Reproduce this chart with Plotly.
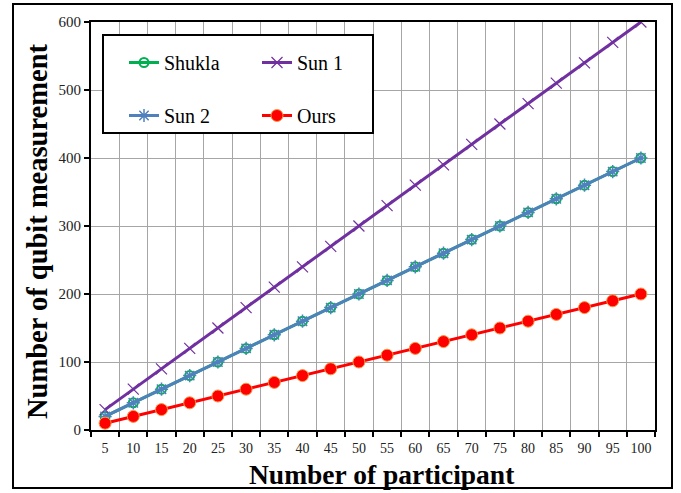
import plotly.graph_objects as go

participants = [5, 10, 15, 20, 25, 30, 35, 40, 45, 50, 55, 60, 65, 70, 75, 80, 85, 90, 95, 100]
shukla = [20, 40, 60, 80, 100, 120, 140, 160, 180, 200, 220, 240, 260, 280, 300, 320, 340, 360, 380, 400]
sun1 = [30, 60, 90, 120, 150, 180, 210, 240, 270, 300, 330, 360, 390, 420, 450, 480, 510, 540, 570, 600]
sun2 = [20, 40, 60, 80, 100, 120, 140, 160, 180, 200, 220, 240, 260, 280, 300, 320, 340, 360, 380, 400]
ours = [10, 20, 30, 40, 50, 60, 70, 80, 90, 100, 110, 120, 130, 140, 150, 160, 170, 180, 190, 200]
y_ticks = [0, 100, 200, 300, 400, 500, 600]

FONT = "Liberation Serif"

fig = go.Figure()
fig.add_trace(go.Scatter(x=participants, y=shukla, name="Shukla", mode="lines+markers",
                         line=dict(color="#00B050", width=3),
                         marker=dict(symbol="circle-open", size=9, color="#00B050", line=dict(width=2)),
                         legend="legend", legendgroup="a"))
fig.add_trace(go.Scatter(x=participants, y=sun1, name="Sun 1", mode="lines+markers",
                         line=dict(color="#7030A0", width=3),
                         marker=dict(symbol="x-thin-open", size=11, color="#7030A0", line=dict(width=1.2, color="#7030A0")),
                         legend="legend2", legendgroup="b"))
fig.add_trace(go.Scatter(x=participants, y=sun2, name="Sun 2", mode="lines+markers",
                         line=dict(color="#4F81BD", width=3),
                         marker=dict(symbol="asterisk-open", size=11, color="#4F81BD", line=dict(width=1.5, color="#4F81BD")),
                         legend="legend", legendgroup="c"))
fig.add_trace(go.Scatter(x=participants, y=ours, name="Ours", mode="lines+markers",
                         line=dict(color="#FF0000", width=3),
                         marker=dict(symbol="circle", size=12, color="#FF0000", line=dict(width=1, color="#F79646")),
                         legend="legend2", legendgroup="d"))

L, R, T, B = 91, 26, 22, 63
W, H = 681, 493
pw, ph = W - L - R, H - T - B

def px(x):
    return (x - L) / pw

def py(y):
    return (H - B - y) / ph

leg_common = dict(orientation="v", bgcolor="rgba(0,0,0,0)", borderwidth=0,
                  font=dict(family=FONT, size=20, color="black"),
                  tracegroupgap=24, xanchor="left", yanchor="top", itemwidth=30)

fig.update_layout(
    width=W, height=H,
    margin=dict(l=L, r=R, t=T, b=B, autoexpand=False),
    font=dict(family=FONT),
    paper_bgcolor="white", plot_bgcolor="white",
    showlegend=True,
    legend=dict(**leg_common, x=px(124), y=py(43)),
    legend2=dict(**leg_common, x=px(257), y=py(43)),
    xaxis=dict(range=[2.5, 102.5], tickvals=participants, ticktext=[str(p) for p in participants],
               ticks="", showgrid=False, zeroline=False, automargin=False, ticklabelstandoff=4,
               showline=True, linecolor="black", linewidth=2, mirror=True,
               tickfont=dict(family=FONT, size=14, color="#222"),
               minor=dict(tick0=2.5, dtick=5, ticks="outside", ticklen=5, tickwidth=1.5, tickcolor="black",
                          showgrid=True, gridcolor="#A6A6A6", gridwidth=1)),
    yaxis=dict(range=[0, 600], tickvals=y_ticks, ticks="outside", ticklen=5, tickwidth=1.5, tickcolor="black",
               showgrid=True, gridcolor="#A6A6A6", gridwidth=1, zeroline=False, automargin=False,
               showline=True, linecolor="black", linewidth=2, mirror=True,
               tickfont=dict(family=FONT, size=15, color="#222")),
    annotations=[
        dict(text="<b>Number of participant</b>", xref="paper", yref="paper", x=px(382), y=py(474),
             xanchor="center", yanchor="middle", showarrow=False,
             font=dict(family=FONT, size=27.5, color="black")),
        dict(text="<b>Number of qubit measurement</b>", xref="paper", yref="paper", x=px(38), y=py(232),
             xanchor="center", yanchor="middle", showarrow=False, textangle=-90,
             font=dict(family=FONT, size=28.5, color="black")),
    ],
    shapes=[
        dict(type="rect", xref="paper", yref="paper", x0=px(13), x1=px(672), y0=py(488), y1=py(4),
             line=dict(color="black", width=2), fillcolor="rgba(0,0,0,0)", layer="below"),
        dict(type="rect", xref="paper", yref="paper", x0=px(103), x1=px(373), y0=py(133), y1=py(35),
             line=dict(color="black", width=2), fillcolor="white", layer="above"),
    ],
)

fig.write_html("out.html", config={"displayModeBar": False},
               post_script="document.body.style.margin='0';document.body.style.overflow='hidden';")
